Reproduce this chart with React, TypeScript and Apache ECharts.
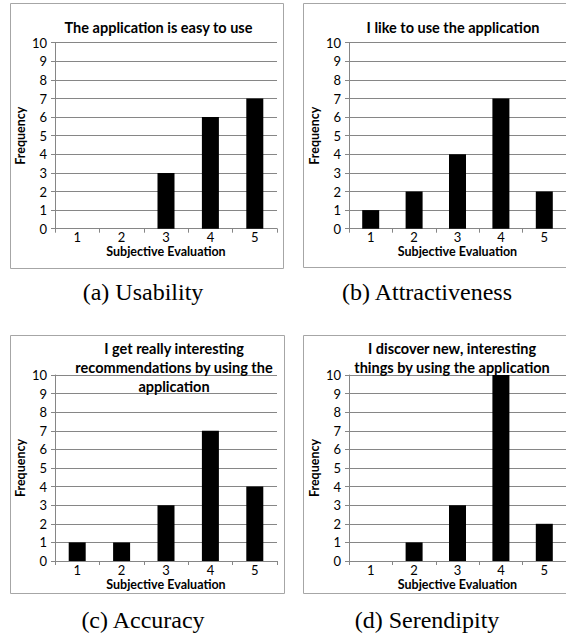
import React, { useEffect, useRef } from "react";
import * as echarts from "echarts";

const categories = ["1", "2", "3", "4", "5"];
const usability = [0, 0, 3, 6, 7];
const attractiveness = [1, 2, 4, 7, 2];
const accuracy = [1, 1, 3, 7, 4];
const serendipity = [0, 1, 3, 10, 2];
const titles = [
  "The application is easy to use",
  "I like to use the application",
  "I get really interesting\nrecommendations by using the\napplication",
  "I discover new, interesting\nthings by using the application",
];
const captions = ["(a) Usability", "(b) Attractiveness", "(c) Accuracy", "(d) Serendipity"];
const xName = "Subjective Evaluation";
const yName = "Frequency";

const SANS = "Lato, 'Open Sans', sans-serif";
const SERIF = "'Liberation Serif', 'DejaVu Serif', serif";
const GRID = "#868686";

export default function App() {
  const ref = useRef<HTMLDivElement>(null);
  useEffect(() => {
    if (!ref.current) return;
    const chart = echarts.init(ref.current, undefined, { renderer: "svg" });
    const seriesData = [usability, attractiveness, accuracy, serendipity];
    const grids = [
      { left: 55, top: 42.7, width: 222, height: 186 },
      { left: 349, top: 42.7, width: 222, height: 186 },
      { left: 55, top: 375, width: 222, height: 186 },
      { left: 349, top: 375, width: 222, height: 186 },
    ];
    const frames = [
      { x: 10.5, y: 3.5, w: 273, h: 265 },
      { x: 303.5, y: 3.5, w: 300, h: 264 },
      { x: 10.5, y: 335.5, w: 274, h: 258 },
      { x: 303.5, y: 335.5, w: 300, h: 258 },
    ];
    const titlePos = [
      { x: 158.5, y: 27 },
      { x: 453, y: 27 },
      { x: 174, y: 367 },
      { x: 452, y: 357.5 },
    ];
    const captionPos = [
      { x: 143, y: 292 },
      { x: 427, y: 292 },
      { x: 143, y: 620 },
      { x: 427, y: 620 },
    ];
    const graphics: any[] = [];
    frames.forEach((f) => {
      graphics.push({
        type: "rect",
        shape: { x: f.x, y: f.y, width: f.w, height: f.h },
        style: { fill: "none", stroke: "#a6a6a6", lineWidth: 1 },
        silent: true,
        z: -1,
      });
    });
    titles.forEach((t, i) => {
      graphics.push({
        type: "text",
        x: titlePos[i].x,
        y: titlePos[i].y,
        style: {
          text: t,
          fontFamily: SANS,
          fontWeight: "bold",
          fontSize: 14.5,
          lineHeight: 19,
          fill: "#000",
          textAlign: "center",
          textVerticalAlign: "middle",
        },
        z: 10,
      });
    });
    captions.forEach((c, i) => {
      graphics.push({
        type: "text",
        x: captionPos[i].x,
        y: captionPos[i].y,
        style: {
          text: c,
          fontFamily: SERIF,
          fontSize: 24,
          fill: "#000",
          textAlign: "center",
          textVerticalAlign: "middle",
        },
      });
    });

    const option: any = {
      animation: false,
      backgroundColor: "#fff",
      grid: grids,
      xAxis: grids.map((_, i) => ({
        type: "category",
        gridIndex: i,
        data: categories,
        boundaryGap: true,
        name: xName,
        nameLocation: "middle",
        nameGap: 17.5,
        nameTextStyle: {
          fontFamily: SANS,
          fontWeight: "bold",
          fontSize: 12.5,
          lineHeight: 11,
          color: "#000",
        },
        axisLine: { show: true, lineStyle: { color: GRID, width: 1 } },
        axisTick: { show: true, alignWithLabel: false, length: 4, lineStyle: { color: GRID } },
        axisLabel: { fontFamily: SANS, fontSize: 13, lineHeight: 11, color: "#000", margin: 3 },
        splitLine: { show: false },
      })),
      yAxis: grids.map((_, i) => ({
        type: "value",
        gridIndex: i,
        min: 0,
        max: 10,
        interval: 1,
        name: yName,
        nameLocation: "middle",
        nameGap: 28,
        nameTextStyle: { fontFamily: SANS, fontWeight: "bold", fontSize: 12.5, color: "#000" },
        axisLine: { show: true, lineStyle: { color: GRID, width: 1 } },
        axisTick: { show: true, length: 4, lineStyle: { color: GRID } },
        axisLabel: { fontFamily: SANS, fontSize: 13, color: "#000", margin: 8 },
        splitLine: { show: true, lineStyle: { color: GRID, width: 1 } },
      })),
      series: seriesData.map((d, i) => ({
        type: "bar",
        xAxisIndex: i,
        yAxisIndex: i,
        data: d,
        barWidth: 17,
        itemStyle: { color: "#000" },
      })),
      graphic: graphics,
    };
    chart.setOption(option);
    return () => chart.dispose();
  }, []);
  return (
    <div
      ref={ref}
      style={{ position: "fixed", left: 0, top: 0, width: 566, height: 641, background: "#fff" }}
    />
  );
}
